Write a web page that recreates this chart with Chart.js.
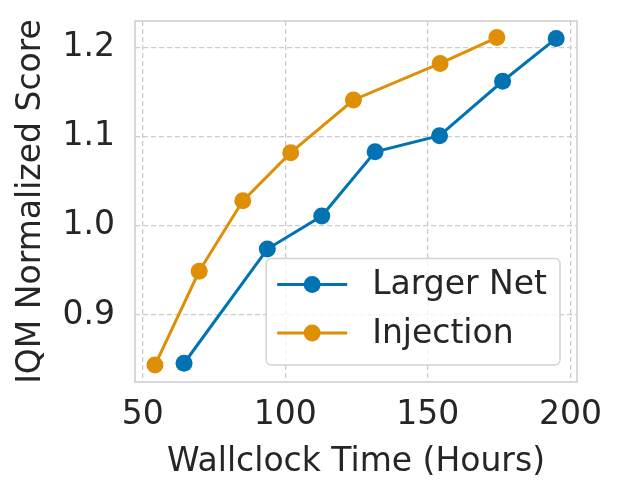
<!DOCTYPE html>
<html>
<head>
<meta charset="utf-8">
<script src="https://cdn.jsdelivr.net/npm/chart.js@4"></script>
<style>
  html, body { margin: 0; padding: 0; background: #fff; }
  #wrap { width: 623px; height: 495px; }
</style>
</head>
<body>
<div id="wrap"><canvas id="chart" width="623" height="495"></canvas></div>
<script>
const largerNetHours = [64.5, 93.7, 112.8, 131.5, 154.1, 176.2, 195.0];
const largerNetScore = [0.846, 0.974, 1.011, 1.083, 1.101, 1.162, 1.210];
const injectionHours = [54.3, 69.8, 85.1, 101.9, 123.9, 154.3, 174.2];
const injectionScore = [0.844, 0.949, 1.028, 1.082, 1.141, 1.182, 1.211];
const xTicks = [50, 100, 150, 200];
const yTicks = [0.9, 1.0, 1.1, 1.2];

const textColor = "#262626";
const fontName = "'DejaVu Sans', sans-serif";

function toPoints(xs, ys) {
    return xs.map((x, i) => ({ x: x, y: ys[i] }));
}

// box around the whole plot area, like the seaborn frame
const frame = {
    id: "frame",
    beforeDatasetsDraw(chart) {
        const a = chart.chartArea;
        const ctx = chart.ctx;
        ctx.save();
        ctx.strokeStyle = "#cccccc";
        ctx.lineWidth = 1.5;
        ctx.strokeRect(a.left, a.top, a.right - a.left, a.bottom - a.top);
        ctx.restore();
    }
};

// legend inside the plot, lower right, with line + marker samples
const innerLegend = {
    id: "innerLegend",
    afterDatasetsDraw(chart) {
        const a = chart.chartArea;
        const ctx = chart.ctx;
        const sets = chart.data.datasets;
        ctx.save();
        ctx.font = "33px " + fontName;
        let textW = 0;
        sets.forEach(d => { textW = Math.max(textW, ctx.measureText(d.label).width); });
        const rowH = 48.5;
        const w = 11 + 70 + 25 + textW + 13;
        const h = 26 + rowH * (sets.length - 1) + 32;
        const x0 = a.right - 17 - w;
        const y0 = a.bottom - 17 - h;

        ctx.beginPath();
        ctx.roundRect(x0, y0, w, h, 5);
        ctx.fillStyle = "rgba(255,255,255,0.8)";
        ctx.fill();
        ctx.strokeStyle = "#d4d4d4";
        ctx.lineWidth = 1.5;
        ctx.stroke();

        sets.forEach((d, i) => {
            const cy = y0 + 26 + i * rowH;
            const lx = x0 + 11;
            ctx.strokeStyle = d.borderColor;
            ctx.lineWidth = 3;
            ctx.beginPath();
            ctx.moveTo(lx, cy);
            ctx.lineTo(lx + 70, cy);
            ctx.stroke();
            ctx.fillStyle = d.borderColor;
            ctx.beginPath();
            ctx.arc(lx + 35, cy, 8.5, 0, Math.PI * 2);
            ctx.fill();
            ctx.fillStyle = textColor;
            ctx.textBaseline = "middle";
            ctx.textAlign = "left";
            ctx.fillText(d.label, lx + 70 + 25, cy + 1);
        });
        ctx.restore();
    }
};

const ctx = document.getElementById("chart").getContext("2d");
const chart = new Chart(ctx, {
    type: "line",
    data: {
        datasets: [
            {
                label: "Larger Net",
                data: toPoints(largerNetHours, largerNetScore),
                borderColor: "#0173b2",
                backgroundColor: "#0173b2",
                borderWidth: 3,
                pointRadius: 8.5,
                pointHoverRadius: 8.5,
                pointBorderWidth: 0,
                tension: 0
            },
            {
                label: "Injection",
                data: toPoints(injectionHours, injectionScore),
                borderColor: "#de8f05",
                backgroundColor: "#de8f05",
                borderWidth: 3,
                pointRadius: 8.5,
                pointHoverRadius: 8.5,
                pointBorderWidth: 0,
                tension: 0
            }
        ]
    },
    options: {
        responsive: false,
        animation: false,
        devicePixelRatio: 1,
        layout: {
            padding: { top: 21, right: 46, left: 0, bottom: 0 }
        },
        scales: {
            x: {
                type: "linear",
                min: 47.3,
                max: 202.3,
                afterBuildTicks: scale => { scale.ticks = xTicks.map(v => ({ value: v })); },
                afterFit: scale => {
                    scale.height = 113;
                    scale.paddingLeft = 0;
                    scale.paddingRight = 0;
                },
                grid: {
                    color: "#cccccc",
                    lineWidth: 1.3,
                    drawTicks: false
                },
                border: { display: false, dash: [5, 3] },
                ticks: {
                    color: textColor,
                    font: { family: fontName, size: 33 },
                    padding: 14,
                    maxRotation: 0
                },
                title: {
                    display: true,
                    text: "Wallclock Time (Hours)",
                    color: textColor,
                    font: { family: fontName, size: 33 },
                    padding: { top: 0, bottom: 13 }
                }
            },
            y: {
                min: 0.825,
                max: 1.2295,
                afterBuildTicks: scale => { scale.ticks = yTicks.map(v => ({ value: v })); },
                afterFit: scale => {
                    scale.width = 135;
                    scale.paddingTop = 0;
                    scale.paddingBottom = 0;
                },
                grid: {
                    color: "#cccccc",
                    lineWidth: 1.3,
                    drawTicks: false
                },
                border: { display: false, dash: [5, 3] },
                ticks: {
                    color: textColor,
                    font: { family: fontName, size: 33 },
                    padding: 20,
                    callback: v => v.toFixed(1)
                },
                title: {
                    display: true,
                    text: "IQM Normalized Score",
                    color: textColor,
                    font: { family: fontName, size: 33 },
                    padding: { top: 12, bottom: 0 }
                }
            }
        },
        plugins: {
            legend: { display: false },
            tooltip: { enabled: false }
        }
    },
    plugins: [frame, innerLegend]
});
</script>
</body>
</html>
